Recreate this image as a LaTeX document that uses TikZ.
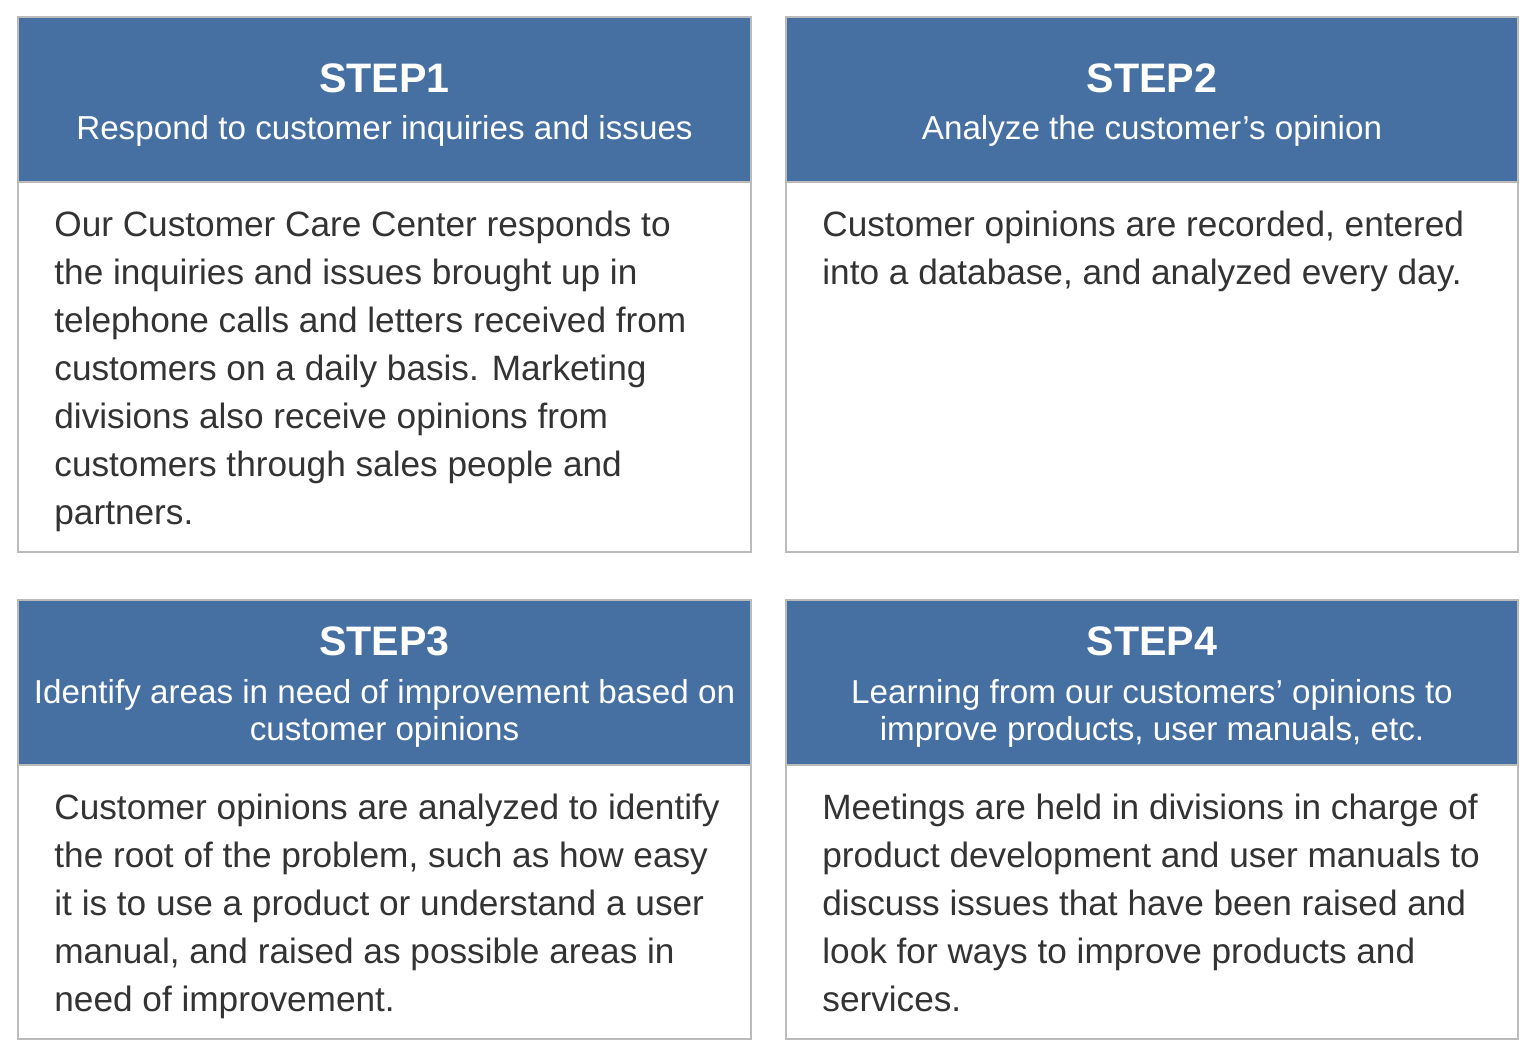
\documentclass[tikz,border=0pt]{standalone}
\usepackage{fontspec}
\setmainfont{Liberation Sans}
\definecolor{hdr}{HTML}{466FA2}
\definecolor{bord}{HTML}{BBBBBB}
\definecolor{txt}{HTML}{333333}
\begin{document}
\begin{tikzpicture}[x=0.5pt,y=-0.5pt,
  panel/.style={draw=bord, line width=0.75pt, fill=white},
  headbar/.style={fill=hdr, draw=bord, line width=0.75pt},
  steptitle/.style={text=white, font=\bfseries\fontsize{20.6}{25}\selectfont, anchor=base, inner sep=0},
  stepsub/.style={text=white, font=\fontsize{16.6}{18.5}\selectfont, anchor=base, inner sep=0, align=center},
  bodytext/.style={text=txt, font=\fontsize{17.6}{24}\selectfont, anchor=base west, inner sep=0, align=left}]
\useasboundingbox (0,0) rectangle (1533,1055);
% panels
\draw[panel] (18,17) rectangle (751,552);
\draw[headbar] (18,17) rectangle (751,182);
\draw[panel] (786,17) rectangle (1518,552);
\draw[headbar] (786,17) rectangle (1518,182);
\draw[panel] (18,600) rectangle (751,1039);
\draw[headbar] (18,600) rectangle (751,765);
\draw[panel] (786,600) rectangle (1518,1039);
\draw[headbar] (786,600) rectangle (1518,765);
% STEP1 (multi-line nodes are placed by their last baseline)
\node[steptitle] (t1) at (384.5,92) {STEP1};
\node[stepsub] (s1) at (384.5,139) {Respond to customer inquiries and issues};
\node[bodytext] (b1) at (54,524) {Our Customer Care Center responds to\\the inquiries and issues brought up in\\telephone calls and letters received from\\customers on a daily basis. Marketing\\divisions also receive opinions from\\customers through sales people and\\partners.};
% STEP2
\node[steptitle] (t2) at (1152,92) {STEP2};
\node[stepsub] (s2) at (1152,139) {Analyze the customer’s opinion};
\node[bodytext] (b2) at (822,284) {Customer opinions are recorded, entered\\into a database, and analyzed every day.};
% STEP3
\node[steptitle] (t3) at (384.5,655) {STEP3};
\node[stepsub] (s3) at (384.5,740) {Identify areas in need of improvement based on\\customer opinions};
\node[bodytext] (b3) at (54,1011) {Customer opinions are analyzed to identify\\the root of the problem, such as how easy\\it is to use a product or understand a user\\manual, and raised as possible areas in\\need of improvement.};
% STEP4
\node[steptitle] (t4) at (1152,655) {STEP4};
\node[stepsub] (s4) at (1152,740) {Learning from our customers’ opinions to\\improve products, user manuals, etc.};
\node[bodytext] (b4) at (822,1011) {Meetings are held in divisions in charge of\\product development and user manuals to\\discuss issues that have been raised and\\look for ways to improve products and\\services.};
\end{tikzpicture}
\end{document}
